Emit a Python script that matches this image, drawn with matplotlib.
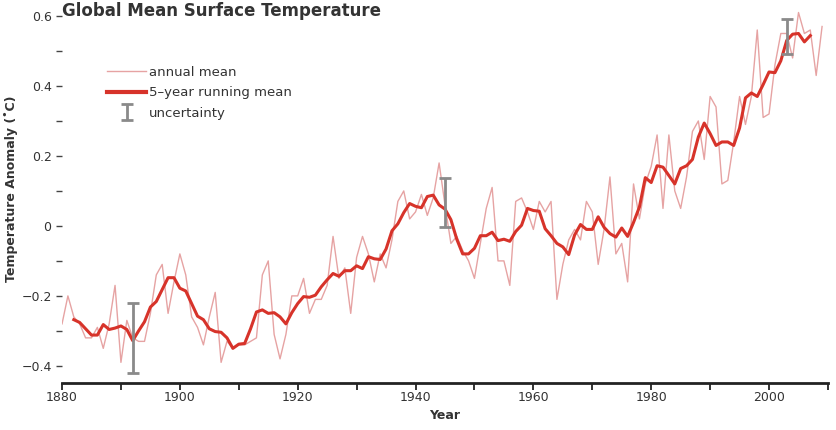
import numpy as np
import matplotlib
matplotlib.use("Agg")
import matplotlib.pyplot as plt
from matplotlib.lines import Line2D
from matplotlib.legend_handler import HandlerErrorbar

plt.rcParams['font.family'] = ['DejaVu Sans']

# ---- data -------------------------------------------------------------
years = np.arange(1880, 2010)
annual_mean = [
    -0.28, -0.20, -0.26, -0.28, -0.32, -0.32, -0.29, -0.35, -0.28, -0.17,
    -0.39, -0.27, -0.32, -0.33, -0.33, -0.25, -0.14, -0.11, -0.25, -0.16,
    -0.08, -0.14, -0.26, -0.29, -0.34, -0.26, -0.19, -0.39, -0.33, -0.35,
    -0.34, -0.34, -0.33, -0.32, -0.14, -0.10, -0.31, -0.38, -0.31, -0.20,
    -0.20, -0.15, -0.25, -0.21, -0.21, -0.17, -0.03, -0.15, -0.12, -0.25,
    -0.09, -0.03, -0.08, -0.16, -0.08, -0.12, -0.04, 0.07, 0.10, 0.02,
    0.04, 0.09, 0.03, 0.08, 0.18, 0.06, -0.05, -0.03, -0.07, -0.10,
    -0.15, -0.05, 0.05, 0.11, -0.10, -0.10, -0.17, 0.07, 0.08, 0.04,
    -0.01, 0.07, 0.04, 0.07, -0.21, -0.11, -0.04, -0.01, -0.04, 0.07,
    0.04, -0.11, -0.01, 0.14, -0.08, -0.05, -0.16, 0.12, 0.02, 0.12,
    0.17, 0.26, 0.05, 0.26, 0.10, 0.05, 0.14, 0.27, 0.30, 0.19,
    0.37, 0.34, 0.12, 0.13, 0.24, 0.37, 0.29, 0.37, 0.56, 0.31,
    0.32, 0.46, 0.55, 0.55, 0.48, 0.61, 0.55, 0.56, 0.43, 0.57,
]

run_years = np.arange(1882, 2008)
running_mean = [
    -0.268, -0.276, -0.294, -0.312, -0.312, -0.282, -0.296, -0.292,
    -0.286, -0.296, -0.328, -0.300, -0.274, -0.232, -0.216, -0.182, -0.148, -0.148,
    -0.178, -0.186, -0.222, -0.258, -0.268, -0.294, -0.302, -0.304, -0.320, -0.350,
    -0.338, -0.336, -0.294, -0.246, -0.240, -0.250, -0.248, -0.260, -0.280, -0.248,
    -0.222, -0.202, -0.204, -0.198, -0.174, -0.154, -0.136, -0.144, -0.128, -0.128,
    -0.114, -0.122, -0.088, -0.094, -0.096, -0.066, -0.014, 0.006, 0.038, 0.064,
    0.056, 0.052, 0.084, 0.088, 0.060, 0.048, 0.018, -0.038, -0.080, -0.080,
    -0.064, -0.028, -0.028, -0.018, -0.042, -0.038, -0.044, -0.016, 0.002, 0.050,
    0.044, 0.042, -0.008, -0.028, -0.050, -0.060, -0.082, -0.026, 0.004, -0.010,
    -0.010, 0.026, -0.004, -0.022, -0.032, -0.006, -0.030, 0.010, 0.054, 0.138,
    0.124, 0.172, 0.168, 0.144, 0.120, 0.164, 0.172, 0.190, 0.254, 0.294,
    0.264, 0.230, 0.240, 0.240, 0.230, 0.280, 0.366, 0.380, 0.370, 0.404,
    0.440, 0.438, 0.472, 0.530, 0.548, 0.550, 0.526, 0.544,
]

unc_years = [1892, 1945, 2003]
unc_center = [-0.32, 0.066, 0.54]
unc_half = [0.10, 0.07, 0.05]

x_ticks = [1880, 1900, 1920, 1940, 1960, 1980, 2000]
y_ticks = [-0.4, -0.2, 0, 0.2, 0.4, 0.6]
y_tick_labels = ['\u22120.4', '\u22120.2', '0', '0.2', '0.4', '0.6']

# ---- styles -----------------------------------------------------------
c_annual = '#e6a3a3'
c_run = '#d7332a'
c_unc = '#8a8a8a'
c_text = '#333333'

fig = plt.figure(figsize=(8.37, 4.30), dpi=100)
ax = fig.add_axes([0.0741, 0.1093, 0.9151, 0.8779])

ax.plot(years, annual_mean, color=c_annual, lw=1.0, zorder=2)
ax.plot(run_years, running_mean, color=c_run, lw=2.2, zorder=3,
        solid_joinstyle='round')
eb = ax.errorbar(unc_years, unc_center, yerr=unc_half, fmt='none',
                 ecolor=c_unc, elinewidth=2.0, capsize=4.5, capthick=2.0,
                 zorder=4)

ax.set_xlim(1880, 2010)
ax.set_ylim(-0.449, 0.63)

ax.set_xticks(np.arange(1880, 2011, 10), minor=True)
ax.set_xticks(x_ticks)
ax.set_xticklabels([str(t) for t in x_ticks])
ax.set_yticks(np.arange(-0.4, 0.61, 0.1), minor=True)
ax.set_yticks(y_ticks)
ax.set_yticklabels(y_tick_labels)

ax.tick_params(axis='x', which='both', direction='out', length=5, width=1.3,
               color='#222222', labelsize=9, labelcolor=c_text, pad=0.5)
ax.tick_params(axis='y', which='both', direction='out', length=4.5, width=1.0,
               color='#444444', labelsize=9, labelcolor=c_text, pad=3)

for s in ['top', 'right', 'left']:
    ax.spines[s].set_visible(False)
ax.spines['bottom'].set_linewidth(2.0)
ax.spines['bottom'].set_color('#222222')

ax.set_xlabel('Year', fontsize=9, fontweight='bold', color=c_text, labelpad=4)
ax.set_ylabel('Temperature Anomaly (\u02daC)', fontsize=9, fontweight='bold',
              color=c_text)
ax.yaxis.set_label_coords(-0.0574, 0.515)

fig.text(0.0741, 0.995, 'Global Mean Surface Temperature', fontsize=12,
         fontweight='bold', color=c_text, ha='left', va='top')

handles = [Line2D([], [], color=c_annual, lw=1.0),
           Line2D([], [], color=c_run, lw=3.0),
           eb]
labels = ['annual mean', '5\u2013year running mean', 'uncertainty']
leg = ax.legend(handles, labels, loc='upper left',
                bbox_to_anchor=(0.043, 0.871), frameon=False, fontsize=9.5,
                handlelength=3.0, handletextpad=0.2, labelspacing=0.55,
                handler_map={type(eb): HandlerErrorbar(xerr_size=0.5, yerr_size=0.6)})
for t in leg.get_texts():
    t.set_color(c_text)

fig.savefig('out.png', dpi=100)
